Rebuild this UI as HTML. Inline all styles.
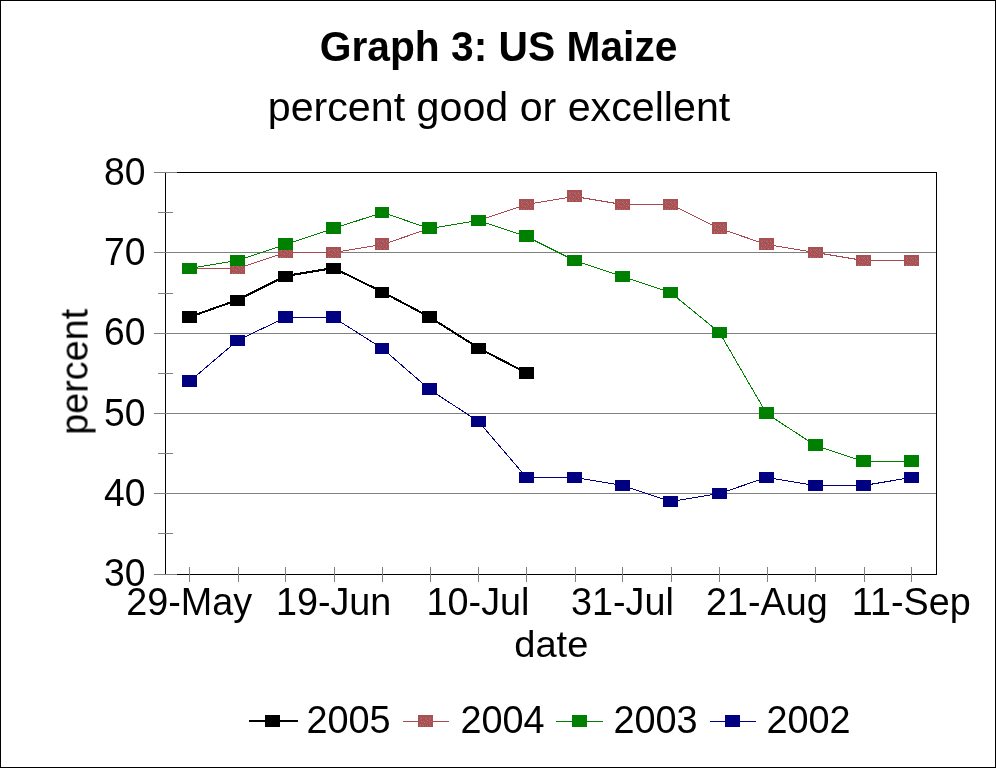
<!DOCTYPE html>
<html lang="en"><head><meta charset="utf-8"><title>Graph 3: US Maize</title>
<style>html,body{margin:0;padding:0;background:#fff;overflow:hidden}svg{display:block}text{font-family:"Liberation Sans",sans-serif;fill:#000}</style></head><body>
<svg width="996" height="768" viewBox="0 0 996 768">
<rect x="0" y="0" width="996" height="768" fill="#fff"/>
<g shape-rendering="crispEdges">
<rect x="0.5" y="0.5" width="995" height="767" fill="none" stroke="#000" stroke-width="1"/>
<rect x="165" y="172" width="772" height="1" fill="#000"/>
<rect x="165" y="574" width="772" height="1" fill="#000"/>
<rect x="936" y="172" width="1" height="403" fill="#000"/>
<rect x="165" y="172" width="1" height="403" fill="#000"/>
<rect x="154" y="172" width="23" height="1" fill="#808080"/>
<rect x="154" y="252" width="782" height="1" fill="#808080"/>
<rect x="154" y="333" width="782" height="1" fill="#808080"/>
<rect x="154" y="413" width="782" height="1" fill="#808080"/>
<rect x="154" y="493" width="782" height="1" fill="#808080"/>
<rect x="154" y="574" width="23" height="1" fill="#808080"/>
<rect x="158" y="212" width="15" height="1" fill="#808080"/>
<rect x="158" y="293" width="15" height="1" fill="#808080"/>
<rect x="158" y="373" width="15" height="1" fill="#808080"/>
<rect x="158" y="453" width="15" height="1" fill="#808080"/>
<rect x="158" y="533" width="15" height="1" fill="#808080"/>
<rect x="189" y="567" width="1" height="15" fill="#808080"/>
<rect x="238" y="567" width="1" height="15" fill="#808080"/>
<rect x="285" y="567" width="1" height="15" fill="#808080"/>
<rect x="334" y="567" width="1" height="15" fill="#808080"/>
<rect x="382" y="567" width="1" height="15" fill="#808080"/>
<rect x="430" y="567" width="1" height="15" fill="#808080"/>
<rect x="478" y="567" width="1" height="15" fill="#808080"/>
<rect x="526" y="567" width="1" height="15" fill="#808080"/>
<rect x="575" y="567" width="1" height="15" fill="#808080"/>
<rect x="622" y="567" width="1" height="15" fill="#808080"/>
<rect x="671" y="567" width="1" height="15" fill="#808080"/>
<rect x="719" y="567" width="1" height="15" fill="#808080"/>
<rect x="767" y="567" width="1" height="15" fill="#808080"/>
<rect x="815" y="567" width="1" height="15" fill="#808080"/>
<rect x="864" y="567" width="1" height="15" fill="#808080"/>
<rect x="911" y="567" width="1" height="15" fill="#808080"/>
</g>
<g shape-rendering="crispEdges">
<polyline points="189.5,317 237.5,300 285.5,276 333.5,268 382.5,292 429.5,317 478.5,348 526.5,373" fill="none" stroke="#000000" stroke-width="2"/>
<rect x="182" y="311" width="15" height="12" fill="#000000"/>
<rect x="230" y="295" width="15" height="11" fill="#000000"/>
<rect x="278" y="271" width="15" height="11" fill="#000000"/>
<rect x="326" y="263" width="15" height="11" fill="#000000"/>
<rect x="375" y="287" width="14" height="11" fill="#000000"/>
<rect x="422" y="311" width="15" height="12" fill="#000000"/>
<rect x="471" y="343" width="15" height="11" fill="#000000"/>
<rect x="519" y="367" width="15" height="12" fill="#000000"/>
<polyline points="189.5,268.5 237.5,268.5 285.5,252.5 333.5,252.5 382.5,244.5 429.5,228.5 478.5,220.5 526.5,204.5 574.5,196.5 622.5,204.5 670.5,204.5 719.5,228.5 766.5,244.5 815.5,252.5 863.5,260.5 911.5,260.5" fill="none" stroke="#a84a50" stroke-width="1"/>
<rect x="182" y="263" width="15" height="11" fill="#a95053"/>
<rect x="184" y="265" width="1" height="1" fill="#8a7678"/>
<rect x="187" y="265" width="1" height="1" fill="#8a7678"/>
<rect x="190" y="265" width="1" height="1" fill="#8a7678"/>
<rect x="193" y="265" width="1" height="1" fill="#8a7678"/>
<rect x="184" y="267" width="1" height="1" fill="#8a7678"/>
<rect x="190" y="267" width="1" height="1" fill="#8a7678"/>
<rect x="194" y="267" width="1" height="1" fill="#8a7678"/>
<rect x="187" y="269" width="1" height="1" fill="#8a7678"/>
<rect x="193" y="269" width="1" height="1" fill="#8a7678"/>
<rect x="190" y="270" width="1" height="1" fill="#8a7678"/>
<rect x="184" y="272" width="1" height="1" fill="#8a7678"/>
<rect x="186" y="272" width="1" height="1" fill="#8a7678"/>
<rect x="189" y="272" width="1" height="1" fill="#8a7678"/>
<rect x="194" y="273" width="1" height="1" fill="#8a7678"/>
<rect x="185" y="266" width="1" height="1" fill="#d8646c"/>
<rect x="189" y="266" width="1" height="1" fill="#d8646c"/>
<rect x="193" y="266" width="1" height="1" fill="#d8646c"/>
<rect x="191" y="268" width="1" height="1" fill="#d8646c"/>
<rect x="185" y="269" width="1" height="1" fill="#d8646c"/>
<rect x="195" y="269" width="1" height="1" fill="#d8646c"/>
<rect x="188" y="270" width="1" height="1" fill="#d8646c"/>
<rect x="193" y="271" width="1" height="1" fill="#d8646c"/>
<rect x="184" y="273" width="1" height="1" fill="#d8646c"/>
<rect x="187" y="273" width="1" height="1" fill="#d8646c"/>
<rect x="191" y="273" width="1" height="1" fill="#d8646c"/>
<rect x="230" y="263" width="15" height="11" fill="#a95053"/>
<rect x="232" y="265" width="1" height="1" fill="#8a7678"/>
<rect x="235" y="265" width="1" height="1" fill="#8a7678"/>
<rect x="238" y="265" width="1" height="1" fill="#8a7678"/>
<rect x="241" y="265" width="1" height="1" fill="#8a7678"/>
<rect x="232" y="267" width="1" height="1" fill="#8a7678"/>
<rect x="238" y="267" width="1" height="1" fill="#8a7678"/>
<rect x="242" y="267" width="1" height="1" fill="#8a7678"/>
<rect x="235" y="269" width="1" height="1" fill="#8a7678"/>
<rect x="241" y="269" width="1" height="1" fill="#8a7678"/>
<rect x="238" y="270" width="1" height="1" fill="#8a7678"/>
<rect x="232" y="272" width="1" height="1" fill="#8a7678"/>
<rect x="234" y="272" width="1" height="1" fill="#8a7678"/>
<rect x="237" y="272" width="1" height="1" fill="#8a7678"/>
<rect x="242" y="273" width="1" height="1" fill="#8a7678"/>
<rect x="233" y="266" width="1" height="1" fill="#d8646c"/>
<rect x="237" y="266" width="1" height="1" fill="#d8646c"/>
<rect x="241" y="266" width="1" height="1" fill="#d8646c"/>
<rect x="239" y="268" width="1" height="1" fill="#d8646c"/>
<rect x="233" y="269" width="1" height="1" fill="#d8646c"/>
<rect x="243" y="269" width="1" height="1" fill="#d8646c"/>
<rect x="236" y="270" width="1" height="1" fill="#d8646c"/>
<rect x="241" y="271" width="1" height="1" fill="#d8646c"/>
<rect x="232" y="273" width="1" height="1" fill="#d8646c"/>
<rect x="235" y="273" width="1" height="1" fill="#d8646c"/>
<rect x="239" y="273" width="1" height="1" fill="#d8646c"/>
<rect x="278" y="247" width="15" height="11" fill="#a95053"/>
<rect x="280" y="249" width="1" height="1" fill="#8a7678"/>
<rect x="283" y="249" width="1" height="1" fill="#8a7678"/>
<rect x="286" y="249" width="1" height="1" fill="#8a7678"/>
<rect x="289" y="249" width="1" height="1" fill="#8a7678"/>
<rect x="280" y="251" width="1" height="1" fill="#8a7678"/>
<rect x="286" y="251" width="1" height="1" fill="#8a7678"/>
<rect x="290" y="251" width="1" height="1" fill="#8a7678"/>
<rect x="283" y="253" width="1" height="1" fill="#8a7678"/>
<rect x="289" y="253" width="1" height="1" fill="#8a7678"/>
<rect x="286" y="254" width="1" height="1" fill="#8a7678"/>
<rect x="280" y="256" width="1" height="1" fill="#8a7678"/>
<rect x="282" y="256" width="1" height="1" fill="#8a7678"/>
<rect x="285" y="256" width="1" height="1" fill="#8a7678"/>
<rect x="290" y="257" width="1" height="1" fill="#8a7678"/>
<rect x="281" y="250" width="1" height="1" fill="#d8646c"/>
<rect x="285" y="250" width="1" height="1" fill="#d8646c"/>
<rect x="289" y="250" width="1" height="1" fill="#d8646c"/>
<rect x="287" y="252" width="1" height="1" fill="#d8646c"/>
<rect x="281" y="253" width="1" height="1" fill="#d8646c"/>
<rect x="291" y="253" width="1" height="1" fill="#d8646c"/>
<rect x="284" y="254" width="1" height="1" fill="#d8646c"/>
<rect x="289" y="255" width="1" height="1" fill="#d8646c"/>
<rect x="280" y="257" width="1" height="1" fill="#d8646c"/>
<rect x="283" y="257" width="1" height="1" fill="#d8646c"/>
<rect x="287" y="257" width="1" height="1" fill="#d8646c"/>
<rect x="326" y="247" width="15" height="11" fill="#a95053"/>
<rect x="328" y="249" width="1" height="1" fill="#8a7678"/>
<rect x="331" y="249" width="1" height="1" fill="#8a7678"/>
<rect x="334" y="249" width="1" height="1" fill="#8a7678"/>
<rect x="337" y="249" width="1" height="1" fill="#8a7678"/>
<rect x="328" y="251" width="1" height="1" fill="#8a7678"/>
<rect x="334" y="251" width="1" height="1" fill="#8a7678"/>
<rect x="338" y="251" width="1" height="1" fill="#8a7678"/>
<rect x="331" y="253" width="1" height="1" fill="#8a7678"/>
<rect x="337" y="253" width="1" height="1" fill="#8a7678"/>
<rect x="334" y="254" width="1" height="1" fill="#8a7678"/>
<rect x="328" y="256" width="1" height="1" fill="#8a7678"/>
<rect x="330" y="256" width="1" height="1" fill="#8a7678"/>
<rect x="333" y="256" width="1" height="1" fill="#8a7678"/>
<rect x="338" y="257" width="1" height="1" fill="#8a7678"/>
<rect x="329" y="250" width="1" height="1" fill="#d8646c"/>
<rect x="333" y="250" width="1" height="1" fill="#d8646c"/>
<rect x="337" y="250" width="1" height="1" fill="#d8646c"/>
<rect x="335" y="252" width="1" height="1" fill="#d8646c"/>
<rect x="329" y="253" width="1" height="1" fill="#d8646c"/>
<rect x="339" y="253" width="1" height="1" fill="#d8646c"/>
<rect x="332" y="254" width="1" height="1" fill="#d8646c"/>
<rect x="337" y="255" width="1" height="1" fill="#d8646c"/>
<rect x="328" y="257" width="1" height="1" fill="#d8646c"/>
<rect x="331" y="257" width="1" height="1" fill="#d8646c"/>
<rect x="335" y="257" width="1" height="1" fill="#d8646c"/>
<rect x="375" y="238" width="14" height="12" fill="#a95053"/>
<rect x="377" y="240" width="1" height="1" fill="#8a7678"/>
<rect x="380" y="240" width="1" height="1" fill="#8a7678"/>
<rect x="383" y="240" width="1" height="1" fill="#8a7678"/>
<rect x="386" y="240" width="1" height="1" fill="#8a7678"/>
<rect x="377" y="242" width="1" height="1" fill="#8a7678"/>
<rect x="383" y="242" width="1" height="1" fill="#8a7678"/>
<rect x="387" y="242" width="1" height="1" fill="#8a7678"/>
<rect x="380" y="244" width="1" height="1" fill="#8a7678"/>
<rect x="386" y="244" width="1" height="1" fill="#8a7678"/>
<rect x="383" y="245" width="1" height="1" fill="#8a7678"/>
<rect x="377" y="247" width="1" height="1" fill="#8a7678"/>
<rect x="379" y="247" width="1" height="1" fill="#8a7678"/>
<rect x="382" y="247" width="1" height="1" fill="#8a7678"/>
<rect x="387" y="248" width="1" height="1" fill="#8a7678"/>
<rect x="378" y="241" width="1" height="1" fill="#d8646c"/>
<rect x="382" y="241" width="1" height="1" fill="#d8646c"/>
<rect x="386" y="241" width="1" height="1" fill="#d8646c"/>
<rect x="384" y="243" width="1" height="1" fill="#d8646c"/>
<rect x="378" y="244" width="1" height="1" fill="#d8646c"/>
<rect x="388" y="244" width="1" height="1" fill="#d8646c"/>
<rect x="381" y="245" width="1" height="1" fill="#d8646c"/>
<rect x="386" y="246" width="1" height="1" fill="#d8646c"/>
<rect x="377" y="248" width="1" height="1" fill="#d8646c"/>
<rect x="380" y="248" width="1" height="1" fill="#d8646c"/>
<rect x="384" y="248" width="1" height="1" fill="#d8646c"/>
<rect x="422" y="222" width="15" height="12" fill="#a95053"/>
<rect x="424" y="224" width="1" height="1" fill="#8a7678"/>
<rect x="427" y="224" width="1" height="1" fill="#8a7678"/>
<rect x="430" y="224" width="1" height="1" fill="#8a7678"/>
<rect x="433" y="224" width="1" height="1" fill="#8a7678"/>
<rect x="424" y="226" width="1" height="1" fill="#8a7678"/>
<rect x="430" y="226" width="1" height="1" fill="#8a7678"/>
<rect x="434" y="226" width="1" height="1" fill="#8a7678"/>
<rect x="427" y="228" width="1" height="1" fill="#8a7678"/>
<rect x="433" y="228" width="1" height="1" fill="#8a7678"/>
<rect x="430" y="229" width="1" height="1" fill="#8a7678"/>
<rect x="424" y="231" width="1" height="1" fill="#8a7678"/>
<rect x="426" y="231" width="1" height="1" fill="#8a7678"/>
<rect x="429" y="231" width="1" height="1" fill="#8a7678"/>
<rect x="434" y="232" width="1" height="1" fill="#8a7678"/>
<rect x="425" y="225" width="1" height="1" fill="#d8646c"/>
<rect x="429" y="225" width="1" height="1" fill="#d8646c"/>
<rect x="433" y="225" width="1" height="1" fill="#d8646c"/>
<rect x="431" y="227" width="1" height="1" fill="#d8646c"/>
<rect x="425" y="228" width="1" height="1" fill="#d8646c"/>
<rect x="435" y="228" width="1" height="1" fill="#d8646c"/>
<rect x="428" y="229" width="1" height="1" fill="#d8646c"/>
<rect x="433" y="230" width="1" height="1" fill="#d8646c"/>
<rect x="424" y="232" width="1" height="1" fill="#d8646c"/>
<rect x="427" y="232" width="1" height="1" fill="#d8646c"/>
<rect x="431" y="232" width="1" height="1" fill="#d8646c"/>
<rect x="471" y="215" width="15" height="11" fill="#a95053"/>
<rect x="473" y="217" width="1" height="1" fill="#8a7678"/>
<rect x="476" y="217" width="1" height="1" fill="#8a7678"/>
<rect x="479" y="217" width="1" height="1" fill="#8a7678"/>
<rect x="482" y="217" width="1" height="1" fill="#8a7678"/>
<rect x="473" y="219" width="1" height="1" fill="#8a7678"/>
<rect x="479" y="219" width="1" height="1" fill="#8a7678"/>
<rect x="483" y="219" width="1" height="1" fill="#8a7678"/>
<rect x="476" y="221" width="1" height="1" fill="#8a7678"/>
<rect x="482" y="221" width="1" height="1" fill="#8a7678"/>
<rect x="479" y="222" width="1" height="1" fill="#8a7678"/>
<rect x="473" y="224" width="1" height="1" fill="#8a7678"/>
<rect x="475" y="224" width="1" height="1" fill="#8a7678"/>
<rect x="478" y="224" width="1" height="1" fill="#8a7678"/>
<rect x="483" y="225" width="1" height="1" fill="#8a7678"/>
<rect x="474" y="218" width="1" height="1" fill="#d8646c"/>
<rect x="478" y="218" width="1" height="1" fill="#d8646c"/>
<rect x="482" y="218" width="1" height="1" fill="#d8646c"/>
<rect x="480" y="220" width="1" height="1" fill="#d8646c"/>
<rect x="474" y="221" width="1" height="1" fill="#d8646c"/>
<rect x="484" y="221" width="1" height="1" fill="#d8646c"/>
<rect x="477" y="222" width="1" height="1" fill="#d8646c"/>
<rect x="482" y="223" width="1" height="1" fill="#d8646c"/>
<rect x="473" y="225" width="1" height="1" fill="#d8646c"/>
<rect x="476" y="225" width="1" height="1" fill="#d8646c"/>
<rect x="480" y="225" width="1" height="1" fill="#d8646c"/>
<rect x="519" y="199" width="15" height="11" fill="#a95053"/>
<rect x="521" y="201" width="1" height="1" fill="#8a7678"/>
<rect x="524" y="201" width="1" height="1" fill="#8a7678"/>
<rect x="527" y="201" width="1" height="1" fill="#8a7678"/>
<rect x="530" y="201" width="1" height="1" fill="#8a7678"/>
<rect x="521" y="203" width="1" height="1" fill="#8a7678"/>
<rect x="527" y="203" width="1" height="1" fill="#8a7678"/>
<rect x="531" y="203" width="1" height="1" fill="#8a7678"/>
<rect x="524" y="205" width="1" height="1" fill="#8a7678"/>
<rect x="530" y="205" width="1" height="1" fill="#8a7678"/>
<rect x="527" y="206" width="1" height="1" fill="#8a7678"/>
<rect x="521" y="208" width="1" height="1" fill="#8a7678"/>
<rect x="523" y="208" width="1" height="1" fill="#8a7678"/>
<rect x="526" y="208" width="1" height="1" fill="#8a7678"/>
<rect x="531" y="209" width="1" height="1" fill="#8a7678"/>
<rect x="522" y="202" width="1" height="1" fill="#d8646c"/>
<rect x="526" y="202" width="1" height="1" fill="#d8646c"/>
<rect x="530" y="202" width="1" height="1" fill="#d8646c"/>
<rect x="528" y="204" width="1" height="1" fill="#d8646c"/>
<rect x="522" y="205" width="1" height="1" fill="#d8646c"/>
<rect x="532" y="205" width="1" height="1" fill="#d8646c"/>
<rect x="525" y="206" width="1" height="1" fill="#d8646c"/>
<rect x="530" y="207" width="1" height="1" fill="#d8646c"/>
<rect x="521" y="209" width="1" height="1" fill="#d8646c"/>
<rect x="524" y="209" width="1" height="1" fill="#d8646c"/>
<rect x="528" y="209" width="1" height="1" fill="#d8646c"/>
<rect x="567" y="190" width="15" height="12" fill="#a95053"/>
<rect x="569" y="192" width="1" height="1" fill="#8a7678"/>
<rect x="572" y="192" width="1" height="1" fill="#8a7678"/>
<rect x="575" y="192" width="1" height="1" fill="#8a7678"/>
<rect x="578" y="192" width="1" height="1" fill="#8a7678"/>
<rect x="569" y="194" width="1" height="1" fill="#8a7678"/>
<rect x="575" y="194" width="1" height="1" fill="#8a7678"/>
<rect x="579" y="194" width="1" height="1" fill="#8a7678"/>
<rect x="572" y="196" width="1" height="1" fill="#8a7678"/>
<rect x="578" y="196" width="1" height="1" fill="#8a7678"/>
<rect x="575" y="197" width="1" height="1" fill="#8a7678"/>
<rect x="569" y="199" width="1" height="1" fill="#8a7678"/>
<rect x="571" y="199" width="1" height="1" fill="#8a7678"/>
<rect x="574" y="199" width="1" height="1" fill="#8a7678"/>
<rect x="579" y="200" width="1" height="1" fill="#8a7678"/>
<rect x="570" y="193" width="1" height="1" fill="#d8646c"/>
<rect x="574" y="193" width="1" height="1" fill="#d8646c"/>
<rect x="578" y="193" width="1" height="1" fill="#d8646c"/>
<rect x="576" y="195" width="1" height="1" fill="#d8646c"/>
<rect x="570" y="196" width="1" height="1" fill="#d8646c"/>
<rect x="580" y="196" width="1" height="1" fill="#d8646c"/>
<rect x="573" y="197" width="1" height="1" fill="#d8646c"/>
<rect x="578" y="198" width="1" height="1" fill="#d8646c"/>
<rect x="569" y="200" width="1" height="1" fill="#d8646c"/>
<rect x="572" y="200" width="1" height="1" fill="#d8646c"/>
<rect x="576" y="200" width="1" height="1" fill="#d8646c"/>
<rect x="615" y="199" width="15" height="11" fill="#a95053"/>
<rect x="617" y="201" width="1" height="1" fill="#8a7678"/>
<rect x="620" y="201" width="1" height="1" fill="#8a7678"/>
<rect x="623" y="201" width="1" height="1" fill="#8a7678"/>
<rect x="626" y="201" width="1" height="1" fill="#8a7678"/>
<rect x="617" y="203" width="1" height="1" fill="#8a7678"/>
<rect x="623" y="203" width="1" height="1" fill="#8a7678"/>
<rect x="627" y="203" width="1" height="1" fill="#8a7678"/>
<rect x="620" y="205" width="1" height="1" fill="#8a7678"/>
<rect x="626" y="205" width="1" height="1" fill="#8a7678"/>
<rect x="623" y="206" width="1" height="1" fill="#8a7678"/>
<rect x="617" y="208" width="1" height="1" fill="#8a7678"/>
<rect x="619" y="208" width="1" height="1" fill="#8a7678"/>
<rect x="622" y="208" width="1" height="1" fill="#8a7678"/>
<rect x="627" y="209" width="1" height="1" fill="#8a7678"/>
<rect x="618" y="202" width="1" height="1" fill="#d8646c"/>
<rect x="622" y="202" width="1" height="1" fill="#d8646c"/>
<rect x="626" y="202" width="1" height="1" fill="#d8646c"/>
<rect x="624" y="204" width="1" height="1" fill="#d8646c"/>
<rect x="618" y="205" width="1" height="1" fill="#d8646c"/>
<rect x="628" y="205" width="1" height="1" fill="#d8646c"/>
<rect x="621" y="206" width="1" height="1" fill="#d8646c"/>
<rect x="626" y="207" width="1" height="1" fill="#d8646c"/>
<rect x="617" y="209" width="1" height="1" fill="#d8646c"/>
<rect x="620" y="209" width="1" height="1" fill="#d8646c"/>
<rect x="624" y="209" width="1" height="1" fill="#d8646c"/>
<rect x="663" y="199" width="15" height="11" fill="#a95053"/>
<rect x="665" y="201" width="1" height="1" fill="#8a7678"/>
<rect x="668" y="201" width="1" height="1" fill="#8a7678"/>
<rect x="671" y="201" width="1" height="1" fill="#8a7678"/>
<rect x="674" y="201" width="1" height="1" fill="#8a7678"/>
<rect x="665" y="203" width="1" height="1" fill="#8a7678"/>
<rect x="671" y="203" width="1" height="1" fill="#8a7678"/>
<rect x="675" y="203" width="1" height="1" fill="#8a7678"/>
<rect x="668" y="205" width="1" height="1" fill="#8a7678"/>
<rect x="674" y="205" width="1" height="1" fill="#8a7678"/>
<rect x="671" y="206" width="1" height="1" fill="#8a7678"/>
<rect x="665" y="208" width="1" height="1" fill="#8a7678"/>
<rect x="667" y="208" width="1" height="1" fill="#8a7678"/>
<rect x="670" y="208" width="1" height="1" fill="#8a7678"/>
<rect x="675" y="209" width="1" height="1" fill="#8a7678"/>
<rect x="666" y="202" width="1" height="1" fill="#d8646c"/>
<rect x="670" y="202" width="1" height="1" fill="#d8646c"/>
<rect x="674" y="202" width="1" height="1" fill="#d8646c"/>
<rect x="672" y="204" width="1" height="1" fill="#d8646c"/>
<rect x="666" y="205" width="1" height="1" fill="#d8646c"/>
<rect x="676" y="205" width="1" height="1" fill="#d8646c"/>
<rect x="669" y="206" width="1" height="1" fill="#d8646c"/>
<rect x="674" y="207" width="1" height="1" fill="#d8646c"/>
<rect x="665" y="209" width="1" height="1" fill="#d8646c"/>
<rect x="668" y="209" width="1" height="1" fill="#d8646c"/>
<rect x="672" y="209" width="1" height="1" fill="#d8646c"/>
<rect x="712" y="222" width="15" height="12" fill="#a95053"/>
<rect x="714" y="224" width="1" height="1" fill="#8a7678"/>
<rect x="717" y="224" width="1" height="1" fill="#8a7678"/>
<rect x="720" y="224" width="1" height="1" fill="#8a7678"/>
<rect x="723" y="224" width="1" height="1" fill="#8a7678"/>
<rect x="714" y="226" width="1" height="1" fill="#8a7678"/>
<rect x="720" y="226" width="1" height="1" fill="#8a7678"/>
<rect x="724" y="226" width="1" height="1" fill="#8a7678"/>
<rect x="717" y="228" width="1" height="1" fill="#8a7678"/>
<rect x="723" y="228" width="1" height="1" fill="#8a7678"/>
<rect x="720" y="229" width="1" height="1" fill="#8a7678"/>
<rect x="714" y="231" width="1" height="1" fill="#8a7678"/>
<rect x="716" y="231" width="1" height="1" fill="#8a7678"/>
<rect x="719" y="231" width="1" height="1" fill="#8a7678"/>
<rect x="724" y="232" width="1" height="1" fill="#8a7678"/>
<rect x="715" y="225" width="1" height="1" fill="#d8646c"/>
<rect x="719" y="225" width="1" height="1" fill="#d8646c"/>
<rect x="723" y="225" width="1" height="1" fill="#d8646c"/>
<rect x="721" y="227" width="1" height="1" fill="#d8646c"/>
<rect x="715" y="228" width="1" height="1" fill="#d8646c"/>
<rect x="725" y="228" width="1" height="1" fill="#d8646c"/>
<rect x="718" y="229" width="1" height="1" fill="#d8646c"/>
<rect x="723" y="230" width="1" height="1" fill="#d8646c"/>
<rect x="714" y="232" width="1" height="1" fill="#d8646c"/>
<rect x="717" y="232" width="1" height="1" fill="#d8646c"/>
<rect x="721" y="232" width="1" height="1" fill="#d8646c"/>
<rect x="759" y="238" width="15" height="12" fill="#a95053"/>
<rect x="761" y="240" width="1" height="1" fill="#8a7678"/>
<rect x="764" y="240" width="1" height="1" fill="#8a7678"/>
<rect x="767" y="240" width="1" height="1" fill="#8a7678"/>
<rect x="770" y="240" width="1" height="1" fill="#8a7678"/>
<rect x="761" y="242" width="1" height="1" fill="#8a7678"/>
<rect x="767" y="242" width="1" height="1" fill="#8a7678"/>
<rect x="771" y="242" width="1" height="1" fill="#8a7678"/>
<rect x="764" y="244" width="1" height="1" fill="#8a7678"/>
<rect x="770" y="244" width="1" height="1" fill="#8a7678"/>
<rect x="767" y="245" width="1" height="1" fill="#8a7678"/>
<rect x="761" y="247" width="1" height="1" fill="#8a7678"/>
<rect x="763" y="247" width="1" height="1" fill="#8a7678"/>
<rect x="766" y="247" width="1" height="1" fill="#8a7678"/>
<rect x="771" y="248" width="1" height="1" fill="#8a7678"/>
<rect x="762" y="241" width="1" height="1" fill="#d8646c"/>
<rect x="766" y="241" width="1" height="1" fill="#d8646c"/>
<rect x="770" y="241" width="1" height="1" fill="#d8646c"/>
<rect x="768" y="243" width="1" height="1" fill="#d8646c"/>
<rect x="762" y="244" width="1" height="1" fill="#d8646c"/>
<rect x="772" y="244" width="1" height="1" fill="#d8646c"/>
<rect x="765" y="245" width="1" height="1" fill="#d8646c"/>
<rect x="770" y="246" width="1" height="1" fill="#d8646c"/>
<rect x="761" y="248" width="1" height="1" fill="#d8646c"/>
<rect x="764" y="248" width="1" height="1" fill="#d8646c"/>
<rect x="768" y="248" width="1" height="1" fill="#d8646c"/>
<rect x="808" y="247" width="15" height="11" fill="#a95053"/>
<rect x="810" y="249" width="1" height="1" fill="#8a7678"/>
<rect x="813" y="249" width="1" height="1" fill="#8a7678"/>
<rect x="816" y="249" width="1" height="1" fill="#8a7678"/>
<rect x="819" y="249" width="1" height="1" fill="#8a7678"/>
<rect x="810" y="251" width="1" height="1" fill="#8a7678"/>
<rect x="816" y="251" width="1" height="1" fill="#8a7678"/>
<rect x="820" y="251" width="1" height="1" fill="#8a7678"/>
<rect x="813" y="253" width="1" height="1" fill="#8a7678"/>
<rect x="819" y="253" width="1" height="1" fill="#8a7678"/>
<rect x="816" y="254" width="1" height="1" fill="#8a7678"/>
<rect x="810" y="256" width="1" height="1" fill="#8a7678"/>
<rect x="812" y="256" width="1" height="1" fill="#8a7678"/>
<rect x="815" y="256" width="1" height="1" fill="#8a7678"/>
<rect x="820" y="257" width="1" height="1" fill="#8a7678"/>
<rect x="811" y="250" width="1" height="1" fill="#d8646c"/>
<rect x="815" y="250" width="1" height="1" fill="#d8646c"/>
<rect x="819" y="250" width="1" height="1" fill="#d8646c"/>
<rect x="817" y="252" width="1" height="1" fill="#d8646c"/>
<rect x="811" y="253" width="1" height="1" fill="#d8646c"/>
<rect x="821" y="253" width="1" height="1" fill="#d8646c"/>
<rect x="814" y="254" width="1" height="1" fill="#d8646c"/>
<rect x="819" y="255" width="1" height="1" fill="#d8646c"/>
<rect x="810" y="257" width="1" height="1" fill="#d8646c"/>
<rect x="813" y="257" width="1" height="1" fill="#d8646c"/>
<rect x="817" y="257" width="1" height="1" fill="#d8646c"/>
<rect x="856" y="255" width="15" height="11" fill="#a95053"/>
<rect x="858" y="257" width="1" height="1" fill="#8a7678"/>
<rect x="861" y="257" width="1" height="1" fill="#8a7678"/>
<rect x="864" y="257" width="1" height="1" fill="#8a7678"/>
<rect x="867" y="257" width="1" height="1" fill="#8a7678"/>
<rect x="858" y="259" width="1" height="1" fill="#8a7678"/>
<rect x="864" y="259" width="1" height="1" fill="#8a7678"/>
<rect x="868" y="259" width="1" height="1" fill="#8a7678"/>
<rect x="861" y="261" width="1" height="1" fill="#8a7678"/>
<rect x="867" y="261" width="1" height="1" fill="#8a7678"/>
<rect x="864" y="262" width="1" height="1" fill="#8a7678"/>
<rect x="858" y="264" width="1" height="1" fill="#8a7678"/>
<rect x="860" y="264" width="1" height="1" fill="#8a7678"/>
<rect x="863" y="264" width="1" height="1" fill="#8a7678"/>
<rect x="868" y="265" width="1" height="1" fill="#8a7678"/>
<rect x="859" y="258" width="1" height="1" fill="#d8646c"/>
<rect x="863" y="258" width="1" height="1" fill="#d8646c"/>
<rect x="867" y="258" width="1" height="1" fill="#d8646c"/>
<rect x="865" y="260" width="1" height="1" fill="#d8646c"/>
<rect x="859" y="261" width="1" height="1" fill="#d8646c"/>
<rect x="869" y="261" width="1" height="1" fill="#d8646c"/>
<rect x="862" y="262" width="1" height="1" fill="#d8646c"/>
<rect x="867" y="263" width="1" height="1" fill="#d8646c"/>
<rect x="858" y="265" width="1" height="1" fill="#d8646c"/>
<rect x="861" y="265" width="1" height="1" fill="#d8646c"/>
<rect x="865" y="265" width="1" height="1" fill="#d8646c"/>
<rect x="904" y="255" width="15" height="11" fill="#a95053"/>
<rect x="906" y="257" width="1" height="1" fill="#8a7678"/>
<rect x="909" y="257" width="1" height="1" fill="#8a7678"/>
<rect x="912" y="257" width="1" height="1" fill="#8a7678"/>
<rect x="915" y="257" width="1" height="1" fill="#8a7678"/>
<rect x="906" y="259" width="1" height="1" fill="#8a7678"/>
<rect x="912" y="259" width="1" height="1" fill="#8a7678"/>
<rect x="916" y="259" width="1" height="1" fill="#8a7678"/>
<rect x="909" y="261" width="1" height="1" fill="#8a7678"/>
<rect x="915" y="261" width="1" height="1" fill="#8a7678"/>
<rect x="912" y="262" width="1" height="1" fill="#8a7678"/>
<rect x="906" y="264" width="1" height="1" fill="#8a7678"/>
<rect x="908" y="264" width="1" height="1" fill="#8a7678"/>
<rect x="911" y="264" width="1" height="1" fill="#8a7678"/>
<rect x="916" y="265" width="1" height="1" fill="#8a7678"/>
<rect x="907" y="258" width="1" height="1" fill="#d8646c"/>
<rect x="911" y="258" width="1" height="1" fill="#d8646c"/>
<rect x="915" y="258" width="1" height="1" fill="#d8646c"/>
<rect x="913" y="260" width="1" height="1" fill="#d8646c"/>
<rect x="907" y="261" width="1" height="1" fill="#d8646c"/>
<rect x="917" y="261" width="1" height="1" fill="#d8646c"/>
<rect x="910" y="262" width="1" height="1" fill="#d8646c"/>
<rect x="915" y="263" width="1" height="1" fill="#d8646c"/>
<rect x="906" y="265" width="1" height="1" fill="#d8646c"/>
<rect x="909" y="265" width="1" height="1" fill="#d8646c"/>
<rect x="913" y="265" width="1" height="1" fill="#d8646c"/>
<polyline points="189.5,268.5 237.5,260.5 285.5,244.5 333.5,228.5 382.5,212.5 429.5,228.5 478.5,220.5 526.5,236.5 574.5,260.5 622.5,276.5 670.5,292.5 719.5,332.5 766.5,413.5 815.5,445.5 863.5,461.5 911.5,461.5" fill="none" stroke="#008000" stroke-width="1"/>
<rect x="182" y="263" width="15" height="11" fill="#008000"/>
<rect x="230" y="255" width="15" height="11" fill="#008000"/>
<rect x="278" y="238" width="15" height="12" fill="#008000"/>
<rect x="326" y="222" width="15" height="12" fill="#008000"/>
<rect x="375" y="207" width="14" height="11" fill="#008000"/>
<rect x="422" y="222" width="15" height="12" fill="#008000"/>
<rect x="471" y="215" width="15" height="11" fill="#008000"/>
<rect x="519" y="230" width="15" height="12" fill="#008000"/>
<rect x="567" y="255" width="15" height="11" fill="#008000"/>
<rect x="615" y="271" width="15" height="11" fill="#008000"/>
<rect x="663" y="287" width="15" height="11" fill="#008000"/>
<rect x="712" y="327" width="15" height="11" fill="#008000"/>
<rect x="759" y="407" width="15" height="12" fill="#008000"/>
<rect x="808" y="439" width="15" height="12" fill="#008000"/>
<rect x="856" y="455" width="15" height="12" fill="#008000"/>
<rect x="904" y="455" width="15" height="12" fill="#008000"/>
<polyline points="189.5,381.5 237.5,340.5 285.5,317.5 333.5,317.5 382.5,348.5 429.5,389.5 478.5,421.5 526.5,477.5 574.5,477.5 622.5,485.5 670.5,501.5 719.5,493.5 766.5,477.5 815.5,485.5 863.5,485.5 911.5,477.5" fill="none" stroke="#000080" stroke-width="1"/>
<rect x="182" y="375" width="15" height="12" fill="#000080"/>
<rect x="230" y="335" width="15" height="11" fill="#000080"/>
<rect x="278" y="311" width="15" height="12" fill="#000080"/>
<rect x="326" y="311" width="15" height="12" fill="#000080"/>
<rect x="375" y="343" width="14" height="11" fill="#000080"/>
<rect x="422" y="383" width="15" height="12" fill="#000080"/>
<rect x="471" y="416" width="15" height="11" fill="#000080"/>
<rect x="519" y="472" width="15" height="11" fill="#000080"/>
<rect x="567" y="472" width="15" height="11" fill="#000080"/>
<rect x="615" y="480" width="15" height="11" fill="#000080"/>
<rect x="663" y="496" width="15" height="11" fill="#000080"/>
<rect x="712" y="488" width="15" height="11" fill="#000080"/>
<rect x="759" y="472" width="15" height="11" fill="#000080"/>
<rect x="808" y="480" width="15" height="11" fill="#000080"/>
<rect x="856" y="480" width="15" height="11" fill="#000080"/>
<rect x="904" y="472" width="15" height="11" fill="#000080"/>
</g>
<g shape-rendering="crispEdges">
<rect x="249" y="720" width="49" height="2" fill="#000000"/>
<rect x="265" y="715" width="15" height="12" fill="#000000"/>
<rect x="403" y="721" width="46" height="1" fill="#a84a50"/>
<rect x="418" y="715" width="15" height="12" fill="#a95053"/>
<rect x="420" y="717" width="1" height="1" fill="#8a7678"/>
<rect x="423" y="717" width="1" height="1" fill="#8a7678"/>
<rect x="426" y="717" width="1" height="1" fill="#8a7678"/>
<rect x="429" y="717" width="1" height="1" fill="#8a7678"/>
<rect x="420" y="719" width="1" height="1" fill="#8a7678"/>
<rect x="426" y="719" width="1" height="1" fill="#8a7678"/>
<rect x="430" y="719" width="1" height="1" fill="#8a7678"/>
<rect x="423" y="721" width="1" height="1" fill="#8a7678"/>
<rect x="429" y="721" width="1" height="1" fill="#8a7678"/>
<rect x="426" y="722" width="1" height="1" fill="#8a7678"/>
<rect x="420" y="724" width="1" height="1" fill="#8a7678"/>
<rect x="422" y="724" width="1" height="1" fill="#8a7678"/>
<rect x="425" y="724" width="1" height="1" fill="#8a7678"/>
<rect x="430" y="725" width="1" height="1" fill="#8a7678"/>
<rect x="421" y="718" width="1" height="1" fill="#d8646c"/>
<rect x="425" y="718" width="1" height="1" fill="#d8646c"/>
<rect x="429" y="718" width="1" height="1" fill="#d8646c"/>
<rect x="427" y="720" width="1" height="1" fill="#d8646c"/>
<rect x="421" y="721" width="1" height="1" fill="#d8646c"/>
<rect x="431" y="721" width="1" height="1" fill="#d8646c"/>
<rect x="424" y="722" width="1" height="1" fill="#d8646c"/>
<rect x="429" y="723" width="1" height="1" fill="#d8646c"/>
<rect x="420" y="725" width="1" height="1" fill="#d8646c"/>
<rect x="423" y="725" width="1" height="1" fill="#d8646c"/>
<rect x="427" y="725" width="1" height="1" fill="#d8646c"/>
<rect x="556" y="721" width="47" height="1" fill="#008000"/>
<rect x="572" y="715" width="15" height="12" fill="#008000"/>
<rect x="710" y="721" width="46" height="1" fill="#000080"/>
<rect x="725" y="715" width="15" height="12" fill="#000080"/>
</g>
<g opacity="0.999">
<text transform="translate(498.6,61) scale(0.994,1.035)" font-size="41" font-weight="bold" text-anchor="middle">Graph 3: US Maize</text>
<text transform="translate(499,120.5)" font-size="41.2" text-anchor="middle">percent good or excellent</text>
<text transform="translate(145.5,184.8) scale(1.0,1.04)" font-size="37.33" text-anchor="end">80</text>
<text transform="translate(145.5,264.8) scale(1.0,1.04)" font-size="37.33" text-anchor="end">70</text>
<text transform="translate(145.5,344.8) scale(1.0,1.04)" font-size="37.33" text-anchor="end">60</text>
<text transform="translate(145.5,425.8) scale(1.0,1.04)" font-size="37.33" text-anchor="end">50</text>
<text transform="translate(145.5,505.8) scale(1.0,1.04)" font-size="37.33" text-anchor="end">40</text>
<text transform="translate(145.5,585.8) scale(1.0,1.04)" font-size="37.33" text-anchor="end">30</text>
<text transform="translate(189.2,615) scale(1.012,1.035)" font-size="37.33" text-anchor="middle">29-May</text>
<text transform="translate(333.59999999999997,615) scale(1.012,1.035)" font-size="37.33" text-anchor="middle">19-Jun</text>
<text transform="translate(478.0,615) scale(1.012,1.035)" font-size="37.33" text-anchor="middle">10-Jul</text>
<text transform="translate(622.4000000000001,615) scale(1.012,1.035)" font-size="37.33" text-anchor="middle">31-Jul</text>
<text transform="translate(766.8000000000001,615) scale(1.012,1.035)" font-size="37.33" text-anchor="middle">21-Aug</text>
<text transform="translate(911.2,615) scale(1.012,1.035)" font-size="37.33" text-anchor="middle">11-Sep</text>
<text transform="translate(551.3,656.5) scale(1.02,1.0)" font-size="37.33" text-anchor="middle">date</text>
<text transform="translate(87.6,371.8) rotate(-90) scale(1.012,1.03)" font-size="37.33" text-anchor="middle">percent</text>
<text transform="translate(306.4,733) scale(1.015,1.04)" font-size="37.33" text-anchor="start">2005</text>
<text transform="translate(460.4,733) scale(1.015,1.04)" font-size="37.33" text-anchor="start">2004</text>
<text transform="translate(613.4,733) scale(1.015,1.04)" font-size="37.33" text-anchor="start">2003</text>
<text transform="translate(766.4,733) scale(1.015,1.04)" font-size="37.33" text-anchor="start">2002</text>
</g>
</svg></body></html>
